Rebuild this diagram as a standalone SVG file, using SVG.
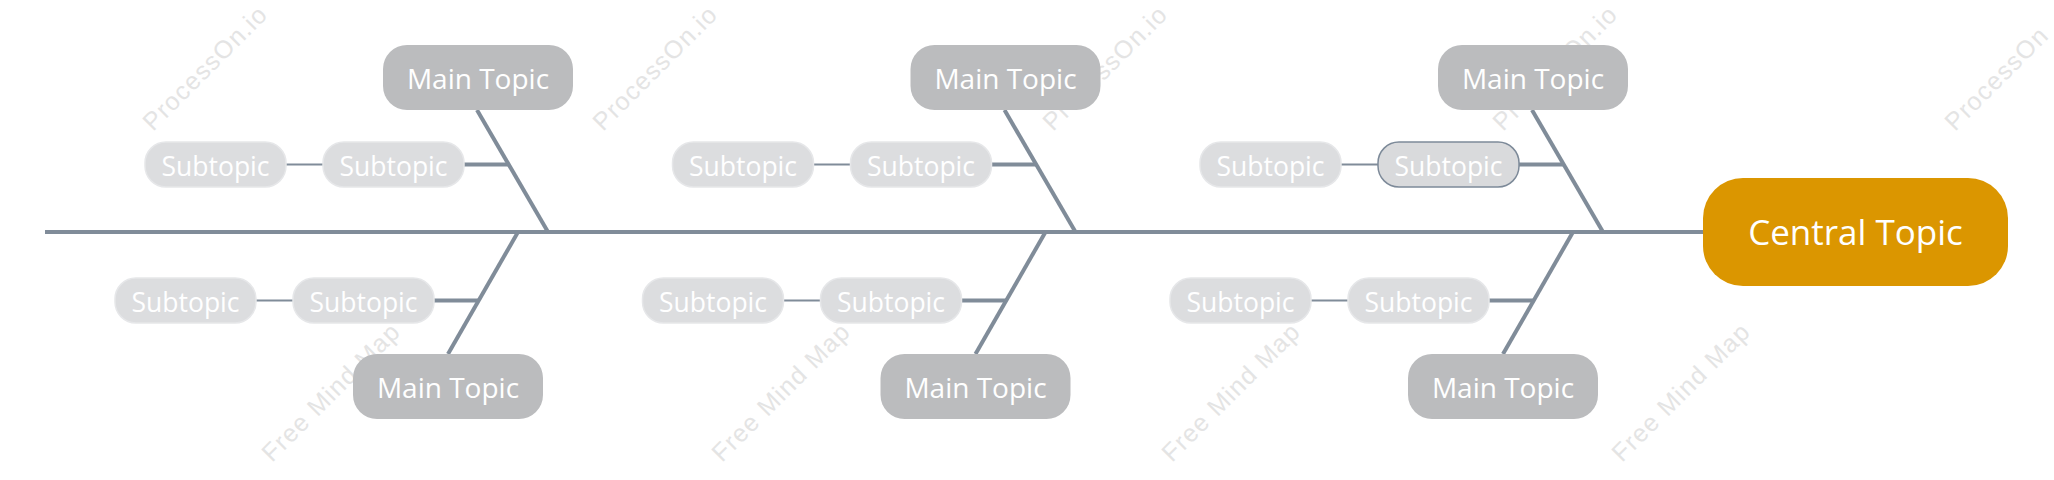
<svg xmlns="http://www.w3.org/2000/svg" width="2054" height="480" viewBox="0 0 2054 480">
<style>
.wm{font-family:"Liberation Sans",Arial,sans-serif;font-size:25px;letter-spacing:1.2px;fill:#e4e4e4}
.main rect{fill:#bbbcbe}
.sub rect{fill:#dcdddf;stroke:#e6e7e9;stroke-width:1.5}
.sub.sel rect{fill:#d9dadc;stroke:#7d8a99;stroke-width:1.5}
.central rect{fill:#db9600}
text.t{font-family:"Open Sans","Noto Sans",sans-serif;fill:#ffffff;text-anchor:middle}
.main text{font-size:28px}
.sub text{font-size:26.5px}
.central text{font-size:35px}
.c path{fill:none;stroke:#808c99;stroke-linecap:butt}
.c .thin{stroke-width:2}
.c .thick{stroke-width:4}
</style>
<rect x="0" y="0" width="2054" height="480" fill="#ffffff"/>
<g id="watermarks">
<text class="wm" x="153" y="132" transform="rotate(-45 153 132)">ProcessOn.io</text>
<text class="wm" x="603" y="132" transform="rotate(-45 603 132)">ProcessOn.io</text>
<text class="wm" x="1053" y="132" transform="rotate(-45 1053 132)">ProcessOn.io</text>
<text class="wm" x="1503" y="132" transform="rotate(-45 1503 132)">ProcessOn.io</text>
<text class="wm" x="1955" y="132" transform="rotate(-45 1955 132)">ProcessOn</text>
<text class="wm" x="272" y="463" transform="rotate(-45 272 463)">Free Mind Map</text>
<text class="wm" x="722" y="463" transform="rotate(-45 722 463)">Free Mind Map</text>
<text class="wm" x="1172" y="463" transform="rotate(-45 1172 463)">Free Mind Map</text>
<text class="wm" x="1622" y="463" transform="rotate(-45 1622 463)">Free Mind Map</text>
</g>
<g id="connectors" class="c">
<path class="thick" d="M45,232 H1703"/>
<path class="thick" d="M477,110 L548,232"/>
<path class="thick" d="M518,232 L448,354"/>
<path class="thin" d="M286,164.5 H323"/>
<path class="thick" d="M464,164.5 H509"/>
<path class="thin" d="M256,300.5 H293"/>
<path class="thick" d="M434,300.5 H479"/>
<path class="thick" d="M1004.5,110 L1075.5,232"/>
<path class="thick" d="M1045.5,232 L975.5,354"/>
<path class="thin" d="M813.5,164.5 H850.5"/>
<path class="thick" d="M991.5,164.5 H1036.5"/>
<path class="thin" d="M783.5,300.5 H820.5"/>
<path class="thick" d="M961.5,300.5 H1006.5"/>
<path class="thick" d="M1532,110 L1603,232"/>
<path class="thick" d="M1573,232 L1503,354"/>
<path class="thin" d="M1341,164.5 H1378"/>
<path class="thick" d="M1519,164.5 H1564"/>
<path class="thin" d="M1311,300.5 H1348"/>
<path class="thick" d="M1489,300.5 H1534"/>
</g>
<g id="central" class="central"><rect x="1703" y="178" width="305" height="108" rx="40"/><text class="t" x="1855.5" y="244.5">Central Topic</text></g>

<g id="main1" class="main"><rect x="383" y="45" width="190" height="65" rx="24"/><text class="t" x="478" y="88.5">Main Topic</text></g>
<g id="sub1a" class="sub"><rect x="145" y="142" width="141" height="45" rx="21"/><text class="t" x="215.5" y="175.5">Subtopic</text></g>
<g id="sub1b" class="sub"><rect x="323" y="142" width="141" height="45" rx="21"/><text class="t" x="393.5" y="175.5">Subtopic</text></g>
<g id="main2" class="main"><rect x="353" y="354" width="190" height="65" rx="24"/><text class="t" x="448" y="397.5">Main Topic</text></g>
<g id="sub2a" class="sub"><rect x="115" y="278" width="141" height="45" rx="21"/><text class="t" x="185.5" y="311.5">Subtopic</text></g>
<g id="sub2b" class="sub"><rect x="293" y="278" width="141" height="45" rx="21"/><text class="t" x="363.5" y="311.5">Subtopic</text></g>

<g id="main3" class="main"><rect x="910.5" y="45" width="190" height="65" rx="24"/><text class="t" x="1005.5" y="88.5">Main Topic</text></g>
<g id="sub3a" class="sub"><rect x="672.5" y="142" width="141" height="45" rx="21"/><text class="t" x="743" y="175.5">Subtopic</text></g>
<g id="sub3b" class="sub"><rect x="850.5" y="142" width="141" height="45" rx="21"/><text class="t" x="921" y="175.5">Subtopic</text></g>
<g id="main4" class="main"><rect x="880.5" y="354" width="190" height="65" rx="24"/><text class="t" x="975.5" y="397.5">Main Topic</text></g>
<g id="sub4a" class="sub"><rect x="642.5" y="278" width="141" height="45" rx="21"/><text class="t" x="713" y="311.5">Subtopic</text></g>
<g id="sub4b" class="sub"><rect x="820.5" y="278" width="141" height="45" rx="21"/><text class="t" x="891" y="311.5">Subtopic</text></g>

<g id="main5" class="main"><rect x="1438" y="45" width="190" height="65" rx="24"/><text class="t" x="1533" y="88.5">Main Topic</text></g>
<g id="sub5a" class="sub"><rect x="1200" y="142" width="141" height="45" rx="21"/><text class="t" x="1270.5" y="175.5">Subtopic</text></g>
<g id="sub5b" class="sub sel"><rect x="1378" y="142" width="141" height="45" rx="21"/><text class="t" x="1448.5" y="175.5">Subtopic</text></g>
<g id="main6" class="main"><rect x="1408" y="354" width="190" height="65" rx="24"/><text class="t" x="1503" y="397.5">Main Topic</text></g>
<g id="sub6a" class="sub"><rect x="1170" y="278" width="141" height="45" rx="21"/><text class="t" x="1240.5" y="311.5">Subtopic</text></g>
<g id="sub6b" class="sub"><rect x="1348" y="278" width="141" height="45" rx="21"/><text class="t" x="1418.5" y="311.5">Subtopic</text></g>
</svg>
